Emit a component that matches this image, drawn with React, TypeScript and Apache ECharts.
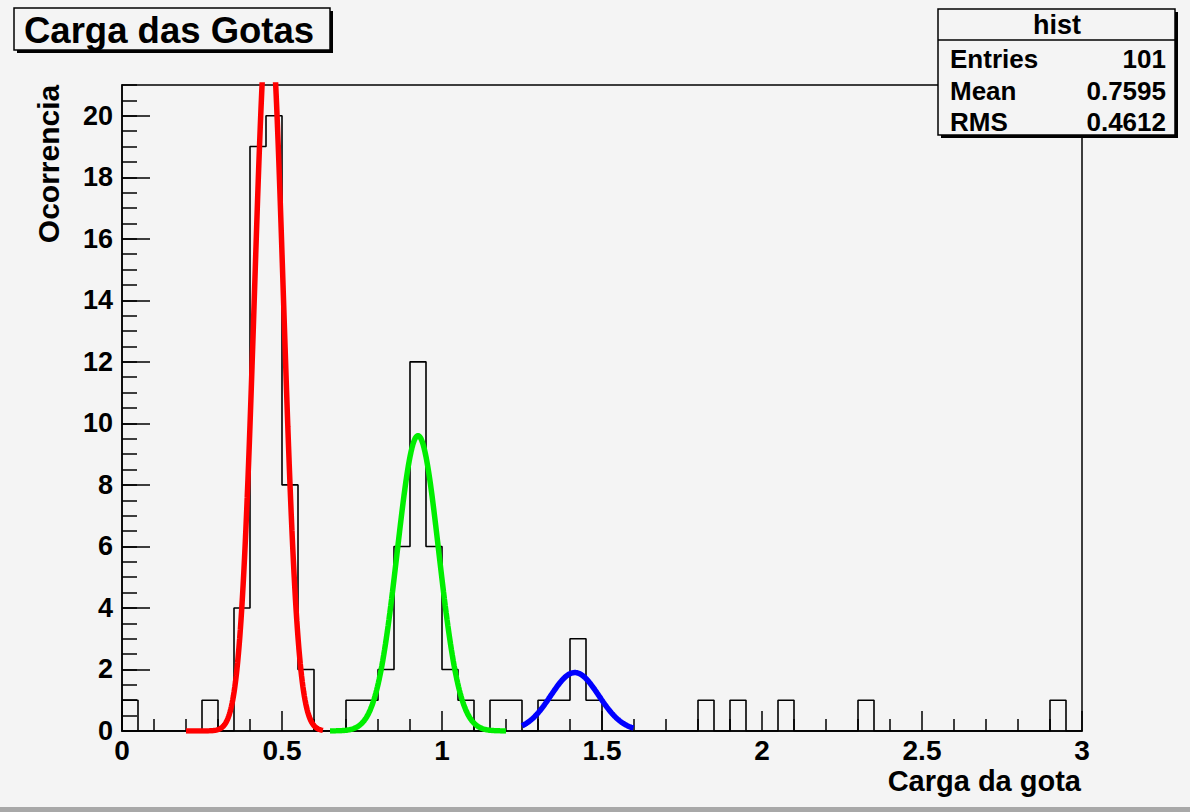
import React, { useEffect, useRef } from "react";
import * as echarts from "echarts";

// Histogram: bin width and bin contents (bins from 0 to 3)
const binWidth = 0.05;
const binCounts = [
  1, 0, 0, 0, 0, 1, 0, 4, 19, 20,
  8, 2, 0, 0, 1, 1, 2, 6, 12, 6,
  2, 1, 0, 1, 1, 0, 1, 1, 3, 1,
  0, 0, 0, 0, 0, 0, 1, 0, 1, 0,
  0, 1, 0, 0, 0, 0, 1, 0, 0, 0,
  0, 0, 0, 0, 0, 0, 0, 0, 1, 0,
];

// Gaussian fit parameters
const fitNames = ["fit1", "fit2", "fit3"];
const fitAmplitudes = [23.5, 9.6, 1.9];
const fitMeans = [0.459, 0.925, 1.415];
const fitSigmas = [0.045, 0.065, 0.075];
const fitFrom = [0.2, 0.65, 1.25];
const fitTo = [0.63, 1.2, 1.6];
const fitColors = ["#ff0000", "#00ee00", "#0000ff"];

// Stats box
const statsTitle = "hist";
const statsLabels = ["Entries", "Mean", "RMS"];
const statsValues = ["101", "0.7595", "0.4612"];

const titleText = "Carga das Gotas";
const xTitle = "Carga da gota";
const yTitle = "Ocorrencia";

const FONT = '"Liberation Sans", Arial, Helvetica, sans-serif';
const BG = "#f4f4f4";

function gaussianCurve(k: number): number[][] {
  const pts: number[][] = [];
  const n = 200;
  for (let i = 0; i <= n; i++) {
    const x = fitFrom[k] + ((fitTo[k] - fitFrom[k]) * i) / n;
    const z = (x - fitMeans[k]) / fitSigmas[k];
    pts.push([x, fitAmplitudes[k] * Math.exp(-0.5 * z * z)]);
  }
  return pts;
}

export default function App() {
  const ref = useRef<HTMLDivElement>(null);

  useEffect(() => {
    document.body.style.margin = "0";
    const chart = echarts.init(ref.current!, null, { renderer: "svg" });

    const histData: number[][] = [[0, 0]];
    binCounts.forEach((c, i) => histData.push([i * binWidth, c]));
    histData.push([binCounts.length * binWidth, 0]);

    const fitSeries = fitNames.map((name, k) => ({
      name,
      type: "line",
      data: gaussianCurve(k),
      showSymbol: false,
      symbol: "none",
      smooth: false,
      clip: true,
      lineStyle: { color: fitColors[k], width: 5.5 },
      z: 5,
    }));

    const rowsY = [59, 91, 122];
    const statsGraphics: any[] = [];
    statsLabels.forEach((lab, i) => {
      statsGraphics.push({
        type: "text",
        x: 950,
        y: rowsY[i],
        z: 102,
        style: {
          text: lab,
          font: `bold 26px ${FONT}`,
          fill: "#000",
          textAlign: "left",
          textVerticalAlign: "middle",
        },
      });
      statsGraphics.push({
        type: "text",
        x: 1166,
        y: rowsY[i],
        z: 102,
        style: {
          text: statsValues[i],
          font: `bold 26px ${FONT}`,
          fill: "#000",
          textAlign: "right",
          textVerticalAlign: "middle",
        },
      });
    });

    chart.setOption({
      animation: false,
      backgroundColor: BG,
      grid: {
        left: 122,
        right: 108,
        top: 85,
        bottom: 81,
        containLabel: false,
        outerBoundsMode: "none",
        show: true,
        borderColor: "#000",
        borderWidth: 1.5,
        backgroundColor: "transparent",
      },
      xAxis: [
        {
          type: "value",
          min: 0,
          max: 3,
          interval: 0.5,
          axisLine: { show: true, onZero: false, lineStyle: { color: "#000", width: 1.5 } },
          axisTick: { show: true, inside: true, length: 20, lineStyle: { color: "#000", width: 1.5 } },
          minorTick: { show: true, splitNumber: 5, length: 12, lineStyle: { color: "#000", width: 1.5 } },
          splitLine: { show: false },
          minorSplitLine: { show: false },
          axisLabel: {
            color: "#000",
            fontFamily: FONT,
            fontWeight: "bold",
            fontSize: 28,
            margin: 5,
          },
        },
      ],
      yAxis: [
        {
          type: "value",
          min: 0,
          max: 21,
          interval: 2,
          position: "left",
          axisLine: { show: true, onZero: false, lineStyle: { color: "#000", width: 1.5 } },
          axisTick: { show: true, inside: true, length: 28, lineStyle: { color: "#000", width: 1.5 } },
          splitLine: { show: false },
          axisLabel: {
            color: "#000",
            fontFamily: FONT,
            fontWeight: "bold",
            fontSize: 27,
            margin: 9,
            showMaxLabel: false,
            formatter: (v: number) => (v % 2 === 0 ? String(v) : ""),
          },
        },
        {
          type: "value",
          min: 0,
          max: 21,
          interval: 0.5,
          position: "left",
          offset: 0,
          axisLine: { show: false },
          axisTick: { show: true, inside: true, length: 15, lineStyle: { color: "#000", width: 1.5 } },
          splitLine: { show: false },
          axisLabel: { show: false },
        },
      ],
      series: [
        {
          name: "hist",
          type: "line",
          step: "end",
          data: histData,
          showSymbol: false,
          symbol: "none",
          clip: true,
          lineStyle: { color: "#000", width: 1.6 },
          z: 3,
        },
        ...fitSeries,
      ],
      graphic: [
        // Title box
        { type: "rect", z: 100, shape: { x: 17, y: 11, width: 316, height: 42 }, style: { fill: "#000" } },
        {
          type: "rect",
          z: 101,
          shape: { x: 14, y: 8, width: 316, height: 42 },
          style: { fill: BG, stroke: "#000", lineWidth: 1.5 },
        },
        {
          type: "text",
          x: 24,
          y: 30,
          z: 102,
          style: {
            text: titleText,
            font: `bold 36.5px ${FONT}`,
            fill: "#000",
            textAlign: "left",
            textVerticalAlign: "middle",
          },
        },
        // Stats box
        { type: "rect", z: 100, shape: { x: 941, y: 12, width: 237, height: 126 }, style: { fill: "#000" } },
        {
          type: "rect",
          z: 101,
          shape: { x: 938, y: 9, width: 237, height: 126 },
          style: { fill: BG, stroke: "#000", lineWidth: 1.5 },
        },
        {
          type: "line",
          z: 102,
          shape: { x1: 938, y1: 40, x2: 1175, y2: 40 },
          style: { stroke: "#000", lineWidth: 1.5 },
        },
        {
          type: "text",
          x: 1057,
          y: 25,
          z: 102,
          style: {
            text: statsTitle,
            font: `bold 27px ${FONT}`,
            fill: "#000",
            textAlign: "center",
            textVerticalAlign: "middle",
          },
        },
        ...statsGraphics,
        // Axis titles
        {
          type: "text",
          x: 1081,
          y: 781,
          z: 102,
          style: {
            text: xTitle,
            font: `bold 29px ${FONT}`,
            fill: "#000",
            textAlign: "right",
            textVerticalAlign: "middle",
          },
        },
        {
          type: "text",
          x: 48,
          y: 164,
          rotation: Math.PI / 2,
          z: 102,
          style: {
            text: yTitle,
            font: `bold 30px ${FONT}`,
            fill: "#000",
            textAlign: "center",
            textVerticalAlign: "middle",
          },
        },
        // Bottom canvas border
        { type: "rect", z: 100, shape: { x: 0, y: 807, width: 1190, height: 5 }, style: { fill: "#a8a8a8" } },
      ],
    });

    return () => chart.dispose();
  }, []);

  return <div ref={ref} style={{ width: 1190, height: 812, background: BG }} />;
}
